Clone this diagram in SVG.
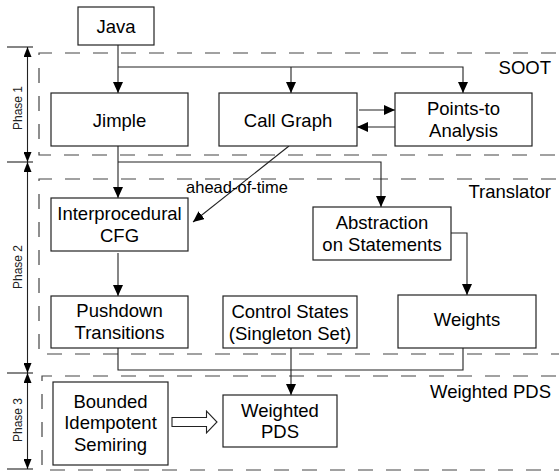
<svg xmlns="http://www.w3.org/2000/svg" width="559" height="471" viewBox="0 0 559 471">
<defs>
<marker id="ah" viewBox="0 0 11 10" refX="11" refY="5" markerWidth="11" markerHeight="10" markerUnits="userSpaceOnUse" orient="auto">
<path d="M0,0 L11,5 L0,10 Z" fill="#000"/>
</marker>
<marker id="ph" viewBox="0 0 10 8" refX="10" refY="4" markerWidth="10" markerHeight="8" markerUnits="userSpaceOnUse" orient="auto-start-reverse">
<path d="M0,0 L10,4 L0,8 Z" fill="#000"/>
</marker>
</defs>
<style>
.box{fill:#fff;stroke:#222;stroke-width:1.2}
.t{font-family:"Liberation Sans",Arial,sans-serif;font-size:18.5px;fill:#000;text-anchor:middle}
.sec{font-family:"Liberation Sans",Arial,sans-serif;font-size:18.5px;fill:#000;text-anchor:end}
.ph{font-family:"Liberation Sans",Arial,sans-serif;font-size:12px;fill:#222;text-anchor:middle}
.dash{fill:none;stroke:#444;stroke-width:1.2;stroke-dasharray:15 13}
.c{fill:none;stroke:#222;stroke-width:1.1}
.ca{fill:none;stroke:#222;stroke-width:1.1;marker-end:url(#ah)}
.tick{stroke:#222;stroke-width:1.1}
</style>

<g id="phases">
<line class="tick" x1="7" y1="47" x2="33" y2="47"/>
<line class="tick" x1="7" y1="162" x2="33" y2="162"/>
<line class="tick" x1="7" y1="373" x2="33" y2="373"/>
<line class="tick" x1="7" y1="469" x2="33" y2="469"/>
<line class="tick" x1="27.5" y1="47" x2="27.5" y2="162" marker-start="url(#ph)" marker-end="url(#ph)"/>
<line class="tick" x1="27.5" y1="162" x2="27.5" y2="373" marker-start="url(#ph)" marker-end="url(#ph)"/>
<line class="tick" x1="27.5" y1="373" x2="27.5" y2="469" marker-start="url(#ph)" marker-end="url(#ph)"/>
<text class="ph" transform="translate(21.5,108) rotate(-90)">Phase 1</text>
<text class="ph" transform="translate(21.5,267) rotate(-90)">Phase 2</text>
<text class="ph" transform="translate(21.5,420) rotate(-90)">Phase 3</text>
</g>

<g id="soot">
<path class="dash" d="M556,53 H39 V155 H559"/>
<text class="sec" x="551" y="74">SOOT</text>
</g>
<g id="translator">
<path class="dash" d="M556,179 H39 V354 H559"/>
<text class="sec" x="551" y="198">Translator</text>
</g>
<g id="wpds">
<path class="dash" d="M556,376 H42 V470 H559"/>
<text class="sec" x="551" y="398">Weighted PDS</text>
</g>

<g id="connectors">
<line class="ca" x1="118" y1="45" x2="118" y2="93"/>
<polyline class="ca" points="118,67 463,67 463,93"/>
<line class="ca" x1="291" y1="67" x2="291" y2="93"/>
<line class="ca" x1="359" y1="110" x2="395" y2="110"/>
<line class="ca" x1="395" y1="127" x2="357" y2="127"/>
<line class="ca" x1="118" y1="146" x2="118" y2="198"/>
<polyline class="ca" points="118,162 381,162 381,207"/>
<line class="ca" x1="289" y1="146" x2="193" y2="222"/>
<text class="t" x="237" y="193" style="font-size:16.5px">ahead-of-time</text>
<line class="ca" x1="118" y1="253" x2="118" y2="296"/>
<polyline class="ca" points="451,233 467,233 467,295"/>
<polyline class="c" points="118,348 118,370 463,370 463,348"/>
<line class="ca" x1="291" y1="348" x2="291" y2="395"/>
<path d="M172,417.5 H206.5 V411 L217,422 L206.5,433 V426.5 H172 Z" fill="#fff" stroke="#222" stroke-width="1.1"/>
</g>

<g id="java"><rect class="box" x="78" y="7" width="76" height="38"/><text class="t" x="116" y="33">Java</text></g>
<g id="jimple"><rect class="box" x="51" y="93" width="137" height="53"/><text class="t" x="119.5" y="126.5">Jimple</text></g>
<g id="callgraph"><rect class="box" x="219" y="93" width="138" height="53"/><text class="t" x="288" y="126.5">Call Graph</text></g>
<g id="pointsto"><rect class="box" x="395" y="93" width="137" height="53"/><text class="t" x="463.5" y="115">Points-to</text><text class="t" x="463.5" y="136.5">Analysis</text></g>
<g id="icfg"><rect class="box" x="51" y="198" width="137" height="53"/><text class="t" x="119.5" y="220">Interprocedural</text><text class="t" x="119.5" y="241.5">CFG</text></g>
<g id="abstraction"><rect class="box" x="313" y="207" width="138" height="53"/><text class="t" x="382" y="228.5">Abstraction</text><text class="t" x="382" y="250.5">on Statements</text></g>
<g id="pushdown"><rect class="box" x="51" y="296" width="137" height="52"/><text class="t" x="119.5" y="316.5">Pushdown</text><text class="t" x="119.5" y="338.5">Transitions</text></g>
<g id="control"><rect class="box" x="223" y="296" width="134" height="52"/><text class="t" x="290" y="317.5">Control States</text><text class="t" x="290" y="340">(Singleton Set)</text></g>
<g id="weights"><rect class="box" x="398" y="295" width="138" height="53"/><text class="t" x="467" y="326">Weights</text></g>
<g id="semiring"><rect class="box" x="53" y="382" width="115" height="83"/><text class="t" x="110.5" y="407.5">Bounded</text><text class="t" x="110.5" y="429">Idempotent</text><text class="t" x="110.5" y="450.5">Semiring</text></g>
<g id="weightedpds"><rect class="box" x="223" y="395" width="114" height="52"/><text class="t" x="280" y="416.5">Weighted</text><text class="t" x="280" y="438">PDS</text></g>
</svg>
